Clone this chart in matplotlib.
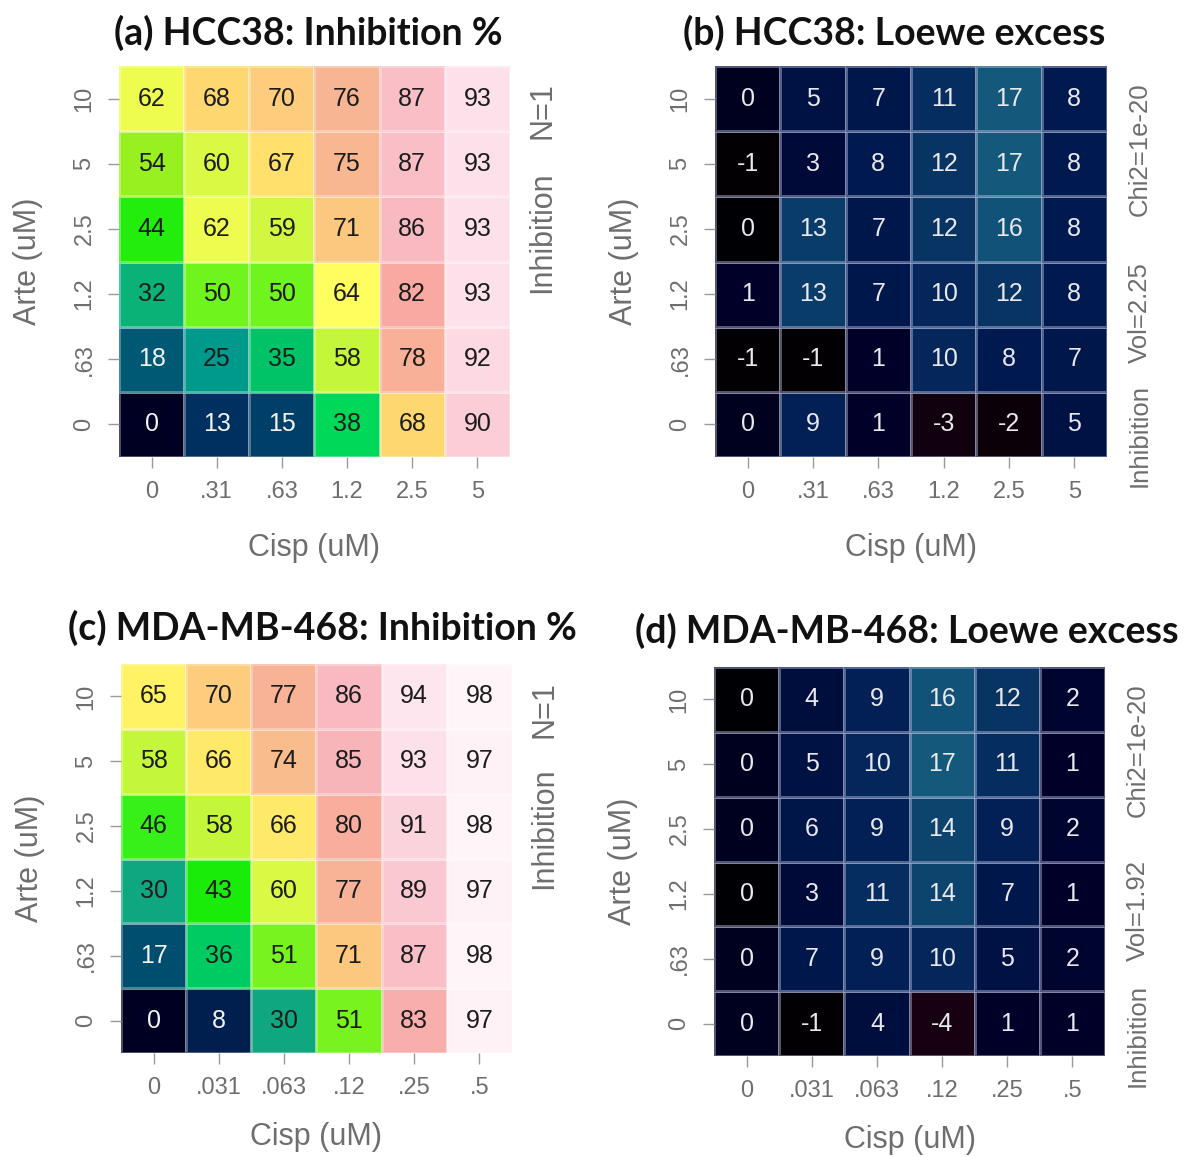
import numpy as np
import matplotlib.pyplot as plt
from matplotlib.colors import LinearSegmentedColormap, Normalize

# Doses (Arte rows listed bottom -> top)
arte_labels = ["0", ".63", "1.2", "2.5", "5", "10"]
cisp_hcc38 = ["0", ".31", ".63", "1.2", "2.5", "5"]
cisp_mda = ["0", ".031", ".063", ".12", ".25", ".5"]

# Inhibition %, rows = Arte 0 ... 10
hcc38_inhib = [
    [0, 13, 15, 38, 68, 90],
    [18, 25, 35, 58, 78, 92],
    [32, 50, 50, 64, 82, 93],
    [44, 62, 59, 71, 86, 93],
    [54, 60, 67, 75, 87, 93],
    [62, 68, 70, 76, 87, 93],
]
mda_inhib = [
    [0, 8, 30, 51, 83, 97],
    [17, 36, 51, 71, 87, 98],
    [30, 43, 60, 77, 89, 97],
    [46, 58, 66, 80, 91, 98],
    [58, 66, 74, 85, 93, 97],
    [65, 70, 77, 86, 94, 98],
]

# Loewe excess (unrounded where the cell colour says so)
hcc38_loewe = [
    [0.3, 9, 1, -3, -2, 5],
    [-1, -1, 1, 10, 8, 7],
    [1, 13, 7, 10, 12, 8],
    [-0.4, 13, 7, 12, 16, 8],
    [-1, 3, 8, 12, 17, 8],
    [0.3, 5, 7, 11, 17, 8],
]
mda_loewe = [
    [0.3, -1, 4, -4, 1, 1],
    [0.3, 7, 9, 10, 5, 2],
    [-0.4, 3, 11, 14, 7, 1],
    [0.3, 6, 9, 14, 9, 2],
    [0.3, 5, 10, 17, 11, 1],
    [-0.4, 4, 9, 16, 12, 2],
]

titles = ["(a) HCC38: Inhibition %", "(b) HCC38: Loewe excess",
          "(c) MDA-MB-468: Inhibition %", "(d) MDA-MB-468: Loewe excess"]
side_notes = [
    [("N=1", 4.81), ("Inhibition", 2.95)],
    [("Chi2=1e-20", 4.22), ("Vol=2.25", 1.72), ("Inhibition", -0.17)],
    [("N=1", 4.80), ("Inhibition", 2.97)],
    [("Chi2=1e-20", 4.22), ("Vol=1.92", 1.74), ("Inhibition", -0.18)],
]

# colour maps
inhib_nodes = [
    (0, "#000022"), (8, "#00204f"), (13, "#00305f"), (17, "#004f70"),
    (25, "#009a8c"), (30, "#10a880"), (35, "#00c468"), (38, "#00d85a"),
    (43, "#18ec08"), (46, "#38f018"), (50, "#6ef41e"), (54, "#98f020"),
    (58, "#c4f63a"), (62, "#eefc50"), (64, "#fffe60"), (66, "#ffe868"),
    (68, "#ffd870"), (71, "#fcc880"), (75, "#f8b890"), (78, "#f8b098"),
    (82, "#f8aaa2"), (86, "#f8b8c0"), (89, "#fac8d0"), (92, "#fcd8e2"),
    (94, "#fde6ee"), (98, "#fff5f8"), (100, "#fff8fa"),
]
loewe_nodes = [
    (-4, "#160012"), (-2, "#0c0008"), (-1, "#030003"), (-0.4, "#000004"),
    (0.3, "#000022"), (1, "#000028"), (3, "#000a38"), (5, "#001244"),
    (8, "#001a50"), (10, "#04265a"), (12, "#083464"), (14, "#0c446e"),
    (17, "#14587c"), (20, "#186280"),
]


def make_cmap(nodes, name):
    lo, hi = nodes[0][0], nodes[-1][0]
    pts = [((v - lo) / (hi - lo), c) for v, c in nodes]
    return LinearSegmentedColormap.from_list(name, pts), Normalize(lo, hi)


inhib_cmap, inhib_norm = make_cmap(inhib_nodes, "inhib")
loewe_cmap, loewe_norm = make_cmap(loewe_nodes, "loewe")

plt.rcParams['font.family'] = ['Liberation Sans', 'DejaVu Sans']
gray = "#6e6e6e"

fig = plt.figure(figsize=(11.85, 11.57), dpi=100)
W, H = 1185, 1157
# heatmap boxes in pixels: left, right, top, bottom
boxes = [(119, 510, 66, 457), (715, 1107, 66, 457),
         (121, 512, 664, 1053), (714, 1105, 667, 1056)]
title_pos = [(308, 33), (894, 33), (322, 628), (907, 631)]
note_size = [22, 18.5, 22, 18.5]
xlabel_pad = [22, 22, 17, 17]

panels = [
    (hcc38_inhib, cisp_hcc38, "inhib"),
    (hcc38_loewe, cisp_hcc38, "loewe"),
    (mda_inhib, cisp_mda, "inhib"),
    (mda_loewe, cisp_mda, "loewe"),
]

for i, (vals, cisp, kind) in enumerate(panels):
    l, r, t, b = boxes[i]
    ax = fig.add_axes([l / W, 1 - b / H, (r - l) / W, (b - t) / H])
    data = np.array(vals, dtype=float)
    cmap, norm = (inhib_cmap, inhib_norm) if kind == "inhib" else (loewe_cmap, loewe_norm)
    edge = (1, 1, 1, 0.3) if kind == "inhib" else (0.72, 0.75, 0.88, 0.45)
    ax.pcolormesh(np.arange(7) - 0.5, np.arange(7) - 0.5, data, cmap=cmap,
                  norm=norm, edgecolors=edge, linewidth=0.8)
    for row in range(6):
        for col in range(6):
            v = data[row, col]
            if kind == "inhib":
                tc = "#f2f2f2" if v < 20 else "#1c1c1c"
            else:
                tc = "#e8e8ee"
            ax.text(col, row, "%d" % int(round(v)), ha="center", va="center",
                    fontsize=18, color=tc)
    ax.set_xlim(-0.5, 5.5)
    ax.set_ylim(-0.5, 5.5)
    for s in ax.spines.values():
        s.set_visible(False)
    ax.set_xticks(range(6))
    ax.set_xticklabels(cisp)
    ax.set_yticks(range(6))
    ax.set_yticklabels(arte_labels, rotation=90, va="center")
    ax.tick_params(length=8, width=1, color="#9a9a9a", labelcolor=gray,
                   labelsize=17, pad=9)
    ax.set_xlabel("Cisp (uM)", fontsize=22, color=gray, labelpad=xlabel_pad[i])
    ax.set_ylabel("Arte (uM)", fontsize=22, color=gray, labelpad=22)
    for txt, y in side_notes[i]:
        ax.text(6.0, y, txt, rotation=90, ha="center", va="center",
                fontsize=note_size[i], color=gray, clip_on=False)
    tx, ty = title_pos[i]
    fig.text(tx / W, 1 - ty / H, titles[i], ha="center", va="center",
             fontsize=27, fontweight="bold", family="Lato", color="#111111")

fig.savefig("out.png", dpi=100, facecolor="white")
